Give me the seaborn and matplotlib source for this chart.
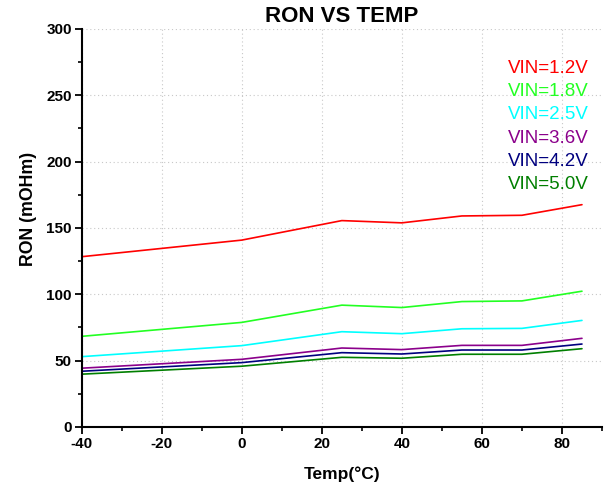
import numpy as np
import pandas as pd
import seaborn as sns
import matplotlib.pyplot as plt
from matplotlib.ticker import MultipleLocator

# Dados
temperaturas = [-40, 0, 25, 40, 55, 70, 85]
ron_1v2 = [128.3, 140.8, 155.5, 153.8, 159.0, 159.5, 167.5]
ron_1v8 = [68.3, 78.8, 91.8, 90.0, 94.5, 95.0, 102.3]
ron_2v5 = [53.0, 61.3, 71.8, 70.3, 74.0, 74.3, 80.3]
ron_3v6 = [44.3, 51.0, 59.5, 58.3, 61.5, 61.5, 66.8]
ron_4v2 = [42.0, 48.5, 56.0, 55.0, 58.0, 58.0, 62.5]
ron_5v0 = [39.8, 45.8, 52.5, 51.8, 54.8, 54.8, 59.0]

rotulos = ["VIN=1.2V", "VIN=1.8V", "VIN=2.5V", "VIN=3.6V", "VIN=4.2V", "VIN=5.0V"]
cores = ["#ff0000", "#22ff22", "#00ffff", "#8b008b", "#00007f", "#007f00"]
series = [ron_1v2, ron_1v8, ron_2v5, ron_3v6, ron_4v2, ron_5v0]

linhas = []
for rotulo, valores in zip(rotulos, series):
    for t, v in zip(temperaturas, valores):
        linhas.append({"temp": t, "ron": v, "vin": rotulo})
df = pd.DataFrame(linhas)

sns.set_style("white")
plt.rcParams["font.family"] = ["Liberation Sans", "DejaVu Sans"]
plt.rcParams["axes.unicode_minus"] = False
plt.rcParams["text.color"] = "black"
plt.rcParams["axes.labelcolor"] = "black"
plt.rcParams["xtick.color"] = "black"
plt.rcParams["ytick.color"] = "black"

fig = plt.figure(figsize=(6.05, 4.88), dpi=100)
ax = fig.add_axes([0.135, 0.125, 0.86, 0.816])

sns.lineplot(data=df, x="temp", y="ron", hue="vin", hue_order=rotulos,
             palette=dict(zip(rotulos, cores)), linewidth=1.2, ax=ax)

ax.set_xlim(-40, 90)
ax.set_ylim(0, 300)
ax.xaxis.set_major_locator(MultipleLocator(20))
ax.xaxis.set_minor_locator(MultipleLocator(10))
ax.yaxis.set_major_locator(MultipleLocator(50))
ax.yaxis.set_minor_locator(MultipleLocator(25))

ax.grid(True, which="major", linestyle=(0, (1, 2.5)), color="#c8c8c8", linewidth=0.8)
ax.tick_params(which="major", direction="out", length=5, width=1.3, labelsize=11,
               bottom=True, left=True, color="black", labelcolor="black", pad=2)
ax.tick_params(which="minor", direction="out", length=3, width=1.2,
               bottom=True, left=True, color="black")
for rotulo in ax.get_xticklabels() + ax.get_yticklabels():
    rotulo.set_fontweight("bold")

for lado in ["top", "right"]:
    ax.spines[lado].set_visible(False)
for lado in ["left", "bottom"]:
    ax.spines[lado].set_color("black")
    ax.spines[lado].set_linewidth(1.5)

ax.set_xlabel("Temp(°C)", fontsize=12.5, fontweight="bold", labelpad=11)
ax.set_ylabel("RON (mOHm)", fontsize=12.8, fontweight="bold")
ax.yaxis.set_label_coords(-0.086, 0.547)
ax.set_title("RON VS TEMP", fontsize=16, fontweight="bold", pad=5, color="black")

ax.legend(loc="upper right", bbox_to_anchor=(1.007, 0.965), frameon=False,
          handlelength=0, handletextpad=0, labelcolor="linecolor",
          fontsize=13.5, labelspacing=0.33)
for h in ax.get_legend().legend_handles:
    h.set_visible(False)

fig.savefig("out.png", dpi=100)
